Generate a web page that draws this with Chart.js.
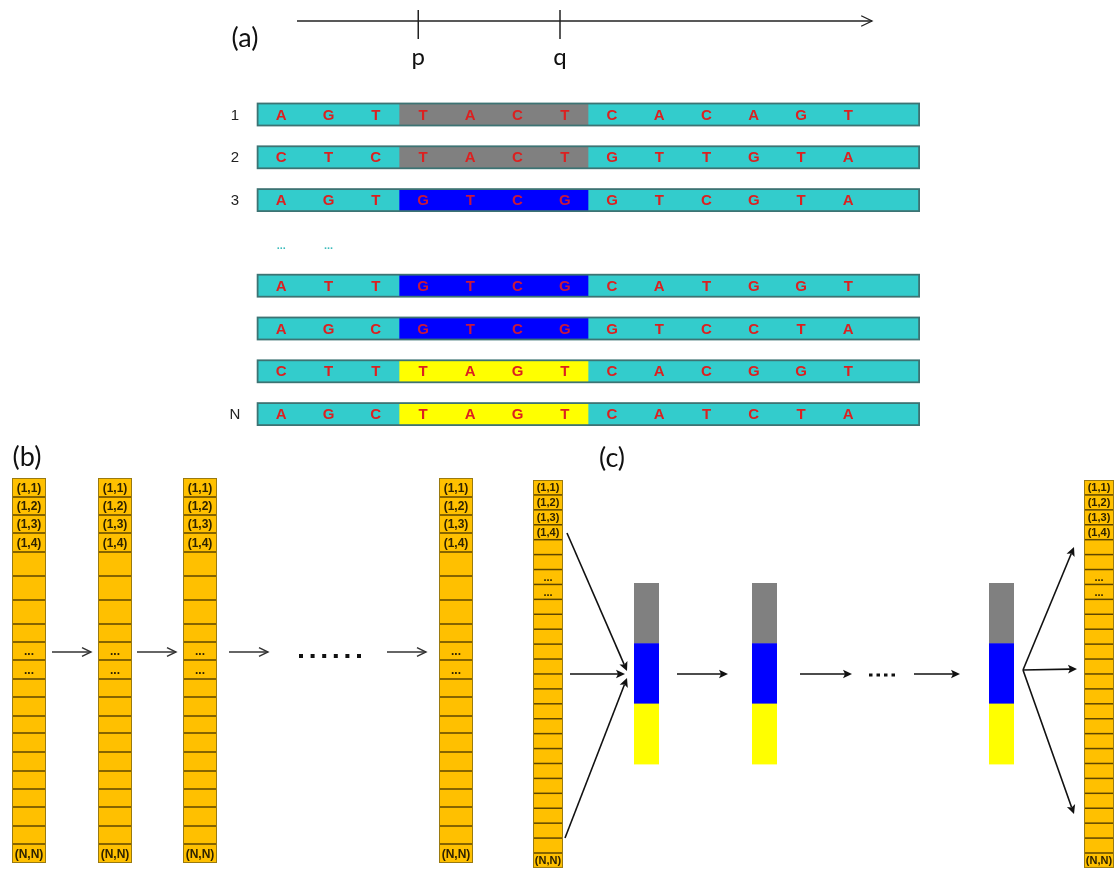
<!DOCTYPE html>
<html>
<head>
<meta charset="utf-8">
<script src="https://cdn.jsdelivr.net/npm/chart.js@4.4.0/dist/chart.umd.min.js"></script>
<style>
  html, body { margin: 0; padding: 0; background: #fff; }
  #fig { display: block; }
</style>
</head>
<body>
<canvas id="fig" width="1115" height="870"></canvas>
<script>
// ---- data ----
// (a) aligned sequences, motif occupies cells 3..6
const rowLabels = ["1", "2", "3", "", "", "", "", "N"];
const sequences = [
  "AGTTACTCACAGT",
  "CTCTACTGTTGTA",
  "AGTGTCGGTCGTA",
  null, // "..." row
  "ATTGTCGCATGGT",
  "AGCGTCGGTCCTA",
  "CTTTAGTCACGGT",
  "AGCTAGTCATCTA",
];
const motifColors = ["#808080", "#808080", "#0000ff", null, "#0000ff", "#0000ff", "#ffff00", "#ffff00"];
const motifStart = 3;
const motifLength = 4;
const axisMarks = ["p", "q"];
const axisMarkCells = [3.4, 6.4];

// (b) matrix columns
const bCellLabels = ["(1,1)", "(1,2)", "(1,3)", "(1,4)", "", "", "", "", "...", "...",
  "", "", "", "", "", "", "", "", "", "(N,N)"];
const bColumnCount = 4;

// (c) matrix columns and motif stacks
const cCellLabels = ["(1,1)", "(1,2)", "(1,3)", "(1,4)", "", "", "...", "...",
  "", "", "", "", "", "", "", "", "", "", "", "", "", "", "", "", "", "(N,N)"];
const stackColors = ["#808080", "#0000ff", "#ffff00"];
const stackCount = 3;
const panelLabels = ["(a)", "(b)", "(c)"];

// ---- layout (pixels in figure space) ----
const L = {
  seq: { x0: 257.6, cellW: 47.25, cells: 14, y0: 114.5, gap: 42.8, h: 22, labelX: 235 },
  axis: { x0: 297, x1: 872, y: 21, tickTop: 10, tickBottom: 39, labelY: 57 },
  panels: [[245, 38], [27, 457], [612, 458]],
  b: { xs: [12, 98, 183, 439], w: 34, top: 478,
       rows: [19, 18, 18, 19, 24, 24, 24, 18, 18, 19, 18, 19, 17, 19, 19, 18, 18, 19, 18, 19],
       arrowY: 652, arrows: [[52, 91], [137, 176], [229, 268], [387, 426]],
       dots: { x: 299, y: 656, n: 6, step: 11.6 } },
  c: { xs: [533, 1084], w: 30, top: 480, cellH: 14.92,
       stackXs: [634, 752, 989], stackW: 25, stackTop: 583, segH: 60.3,
       arrowY: 674, arrows: [[677, 728], [800, 852], [914, 960]],
       dots: { x: 869, y: 675, n: 4, step: 7.5 },
       fanIn: [[567, 533, 627, 671], [570, 674, 625, 674], [565, 838, 627, 678]],
       fanOut: [[1023, 670, 1074, 547], [1023, 670, 1077, 669], [1023, 670, 1074, 814]] },
};

const ORANGE = "#ffc000";
const ORANGE_LINE = "#5e4600";
const TEAL = "#33cccc";
const LETTER = "#dc2020";

function arrow(ctx, x1, y1, x2, y2, o) {
  const a = Math.atan2(y2 - y1, x2 - x1);
  const s = o.size;
  ctx.save();
  ctx.strokeStyle = o.color;
  ctx.fillStyle = o.color;
  ctx.lineWidth = o.width;
  ctx.beginPath();
  ctx.moveTo(x1, y1);
  ctx.lineTo(o.filled ? x2 - Math.cos(a) * s * 0.7 : x2, o.filled ? y2 - Math.sin(a) * s * 0.7 : y2);
  ctx.stroke();
  ctx.beginPath();
  ctx.moveTo(x2 - Math.cos(a - 0.45) * s, y2 - Math.sin(a - 0.45) * s);
  ctx.lineTo(x2, y2);
  ctx.lineTo(x2 - Math.cos(a + 0.45) * s, y2 - Math.sin(a + 0.45) * s);
  if (o.filled) {
    ctx.lineTo(x2 - Math.cos(a) * s * 0.7, y2 - Math.sin(a) * s * 0.7);
    ctx.closePath();
    ctx.fill();
  } else {
    ctx.stroke();
  }
  ctx.restore();
}

function matrixColumn(ctx, X, Y, x, top, w, heights, labels, font) {
  let y = top;
  const total = heights.reduce((s, h) => s + h, 0);
  ctx.fillStyle = ORANGE;
  ctx.fillRect(X(x), Y(top), w, total);
  ctx.strokeStyle = ORANGE_LINE;
  ctx.lineWidth = 1.5;
  ctx.font = font;
  ctx.textAlign = "center";
  ctx.textBaseline = "middle";
  heights.forEach((h, i) => {
    if (i > 0) {
      ctx.beginPath();
      ctx.moveTo(X(x), Y(y));
      ctx.lineTo(X(x) + w, Y(y));
      ctx.stroke();
    }
    const lab = labels[i];
    if (lab) {
      ctx.fillStyle = "#2e2200";
      ctx.fillText(lab, X(x) + w / 2, Y(y + h / 2) + 1);
    }
    y += h;
  });
  ctx.strokeStyle = "#9a7a10";
  ctx.lineWidth = 1;
  ctx.strokeRect(X(x) + 0.5, Y(top) + 0.5, w - 1, total - 1);
}

const figurePlugin = {
  id: "figure",
  afterDraw(chart) {
    const ctx = chart.ctx;
    const X = (v) => chart.scales.x.getPixelForValue(v);
    const Y = (v) => chart.scales.y.getPixelForValue(v);
    ctx.save();

    // panel labels
    ctx.fillStyle = "#111";
    ctx.font = "27px Lato, 'Open Sans', sans-serif";
    ctx.textAlign = "center";
    ctx.textBaseline = "middle";
    panelLabels.forEach((t, i) => ctx.fillText(t, X(L.panels[i][0]), Y(L.panels[i][1])));

    // (a) position axis
    const A = L.axis;
    arrow(ctx, X(A.x0), Y(A.y), X(A.x1), Y(A.y), { color: "#222", width: 1.3, size: 12, filled: false });
    ctx.font = "24px Lato, 'Open Sans', sans-serif";
    axisMarks.forEach((m, i) => {
      const x = X(L.seq.x0 + axisMarkCells[i] * L.seq.cellW);
      ctx.strokeStyle = "#222";
      ctx.lineWidth = 1.5;
      ctx.beginPath();
      ctx.moveTo(x, Y(A.tickTop));
      ctx.lineTo(x, Y(A.tickBottom));
      ctx.stroke();
      ctx.fillStyle = "#111";
      ctx.fillText(m, x, Y(A.labelY));
    });

    // (a) sequence rows
    const S = L.seq;
    sequences.forEach((seq, r) => {
      const yc = S.y0 + r * S.gap;
      if (rowLabels[r]) {
        ctx.fillStyle = "#222";
        ctx.font = "15px 'Liberation Sans', Arial, sans-serif";
        ctx.textAlign = "center";
        ctx.fillText(rowLabels[r], X(S.labelX), Y(yc + 1));
      }
      if (!seq) {
        ctx.fillStyle = "#3cbcbc";
        ctx.font = "bold 11px 'Liberation Sans', Arial, sans-serif";
        [0, 1].forEach((c) => ctx.fillText("...", X(S.x0 + (c + 0.5) * S.cellW), Y(yc + 3)));
        return;
      }
      const top = yc - S.h / 2;
      ctx.fillStyle = TEAL;
      ctx.fillRect(X(S.x0), Y(top), S.cells * S.cellW, S.h);
      ctx.fillStyle = motifColors[r];
      ctx.fillRect(X(S.x0 + motifStart * S.cellW), Y(top), motifLength * S.cellW, S.h);
      ctx.strokeStyle = "#3d7373";
      ctx.lineWidth = 1.8;
      ctx.strokeRect(X(S.x0), Y(top), S.cells * S.cellW, S.h);
      ctx.font = "bold 15px 'Liberation Sans', Arial, sans-serif";
      ctx.textAlign = "center";
      [...seq].forEach((ch, i) => {
        const inMotif = i >= motifStart && i < motifStart + motifLength;
        ctx.fillStyle = inMotif && motifColors[r] === "#0000ff" ? "#c8183c" : LETTER;
        ctx.fillText(ch, X(S.x0 + (i + 0.5) * S.cellW), Y(yc + 1));
      });
    });

    // (b) matrices
    const B = L.b;
    for (let k = 0; k < bColumnCount; k++) {
      matrixColumn(ctx, X, Y, B.xs[k], B.top, B.w, B.rows, bCellLabels,
        "bold 12px 'Liberation Sans Narrow', 'Liberation Sans', Arial, sans-serif");
    }
    B.arrows.forEach(([a, b]) =>
      arrow(ctx, X(a), Y(B.arrowY), X(b), Y(B.arrowY), { color: "#333", width: 1.4, size: 10, filled: false }));
    ctx.fillStyle = "#111";
    for (let i = 0; i < B.dots.n; i++) {
      ctx.fillRect(X(B.dots.x + i * B.dots.step), Y(B.dots.y - 2), 4, 4);
    }

    // (c) matrices
    const C = L.c;
    const cHeights = cCellLabels.map(() => C.cellH);
    C.xs.forEach((x) =>
      matrixColumn(ctx, X, Y, x, C.top, C.w, cHeights, cCellLabels,
        "bold 11px 'Liberation Sans Narrow', 'Liberation Sans', Arial, sans-serif"));

    // (c) motif stacks
    for (let k = 0; k < stackCount; k++) {
      stackColors.forEach((col, j) => {
        ctx.fillStyle = col;
        ctx.fillRect(X(C.stackXs[k]), Y(C.stackTop + j * C.segH), C.stackW, C.segH + 0.5);
      });
    }

    // (c) arrows
    const black = { color: "#111", width: 1.6, size: 10, filled: true };
    C.fanIn.concat(C.fanOut).forEach(([x1, y1, x2, y2]) => arrow(ctx, X(x1), Y(y1), X(x2), Y(y2), black));
    C.arrows.forEach(([a, b]) => arrow(ctx, X(a), Y(C.arrowY), X(b), Y(C.arrowY), black));
    ctx.fillStyle = "#111";
    for (let i = 0; i < C.dots.n; i++) {
      ctx.fillRect(X(C.dots.x + i * C.dots.step), Y(C.dots.y - 1.5), 3.5, 3);
    }

    ctx.restore();
  },
};

new Chart(document.getElementById("fig"), {
  type: "scatter",
  data: { datasets: [{ data: [], pointRadius: 0 }] },
  options: {
    responsive: false,
    animation: false,
    devicePixelRatio: 1,
    layout: { padding: 0 },
    plugins: { legend: { display: false }, tooltip: { enabled: false } },
    scales: {
      x: { type: "linear", min: 0, max: 1115, display: false },
      y: { type: "linear", min: 0, max: 870, reverse: true, display: false },
    },
  },
  plugins: [figurePlugin],
});
</script>
</body>
</html>
